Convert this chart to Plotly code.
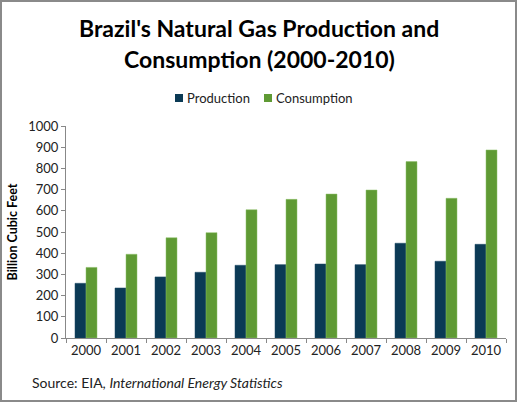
import plotly.graph_objects as go

years = ["2000", "2001", "2002", "2003", "2004", "2005", "2006", "2007", "2008", "2009", "2010"]
production = [258, 236, 288, 310, 343, 346, 349, 346, 447, 362, 442]
consumption = [333, 395, 473, 497, 605, 654, 679, 698, 832, 659, 887]
series_names = ["Production", "Consumption"]
series_colors = ["#0B3A55", "#5F9A34"]

W, H = 518, 403
L, R, T, B = 66, 12, 126, 65
pw, ph = W - L - R, H - T - B

font = "Lato, 'Open Sans', sans-serif"


def px(x):
    return (x - L) / pw


def py(y):
    return (T + ph - y) / ph


fig = go.Figure()
fig.add_trace(go.Bar(x=years, y=production, name=series_names[0],
                     marker=dict(color=series_colors[0], line=dict(color="#1d4a66", width=0.5))))
fig.add_trace(go.Bar(x=years, y=consumption, name=series_names[1],
                     marker=dict(color=series_colors[1], line=dict(color="#8fc06a", width=0.5))))

fig.update_layout(
    width=W, height=H,
    margin=dict(l=L, r=R, t=T, b=B),
    paper_bgcolor="white", plot_bgcolor="white",
    barmode="group", bargap=0.45, bargroupgap=0,
    font=dict(family=font, size=12, color="#222"),
    showlegend=False,
)
fig.update_xaxes(type="category", showline=True, linecolor="#888", linewidth=1,
                 ticks="outside", tickson="boundaries", ticklen=4, tickcolor="#888",
                 showgrid=False, tickfont=dict(size=13, color="#222"))
fig.update_yaxes(range=[0, 1000], dtick=100, showline=True, linecolor="#888", linewidth=1,
                 ticks="outside", ticklen=4, tickcolor="#888", showgrid=False, zeroline=False,
                 tickfont=dict(size=13, color="#222"),
                 title=dict(text="<b>Billion Cubic Feet</b>", font=dict(size=12.5, color="black"), standoff=7))

# Title (two lines)
title_lines = ["Brazil's Natural Gas Production and", "Consumption (2000-2010)"]
for txt, yc in zip(title_lines, [28, 59]):
    fig.add_annotation(text="<b>" + txt + "</b>", xref="paper", yref="paper",
                       x=px(W / 2), y=py(yc), xanchor="center", yanchor="middle",
                       showarrow=False, font=dict(size=23, color="black", family=font))

# Legend (manual)
legend_x = [175, 264]
for name, col, lx in zip(series_names, series_colors, legend_x):
    fig.add_shape(type="rect", xref="paper", yref="paper",
                  x0=px(lx), x1=px(lx + 8), y0=py(102), y1=py(94),
                  fillcolor=col, line=dict(width=0))
    fig.add_annotation(text=name, xref="paper", yref="paper", x=px(lx + 10), y=py(98),
                       xanchor="left", yanchor="middle", showarrow=False,
                       font=dict(size=13, color="#222", family=font))

fig.add_annotation(text="Source: EIA, <i>International Energy Statistics</i>",
                   xref="paper", yref="paper", x=px(30), y=py(382),
                   xanchor="left", yanchor="middle", showarrow=False,
                   font=dict(size=14, color="#222", family=font))

# Border
fig.add_shape(type="rect", xref="paper", yref="paper",
              x0=px(1), x1=px(W - 2), y0=py(H - 2), y1=py(1),
              line=dict(color="#8a8a8a", width=2), fillcolor="rgba(0,0,0,0)", layer="above")

fig.write_html("out.html")
